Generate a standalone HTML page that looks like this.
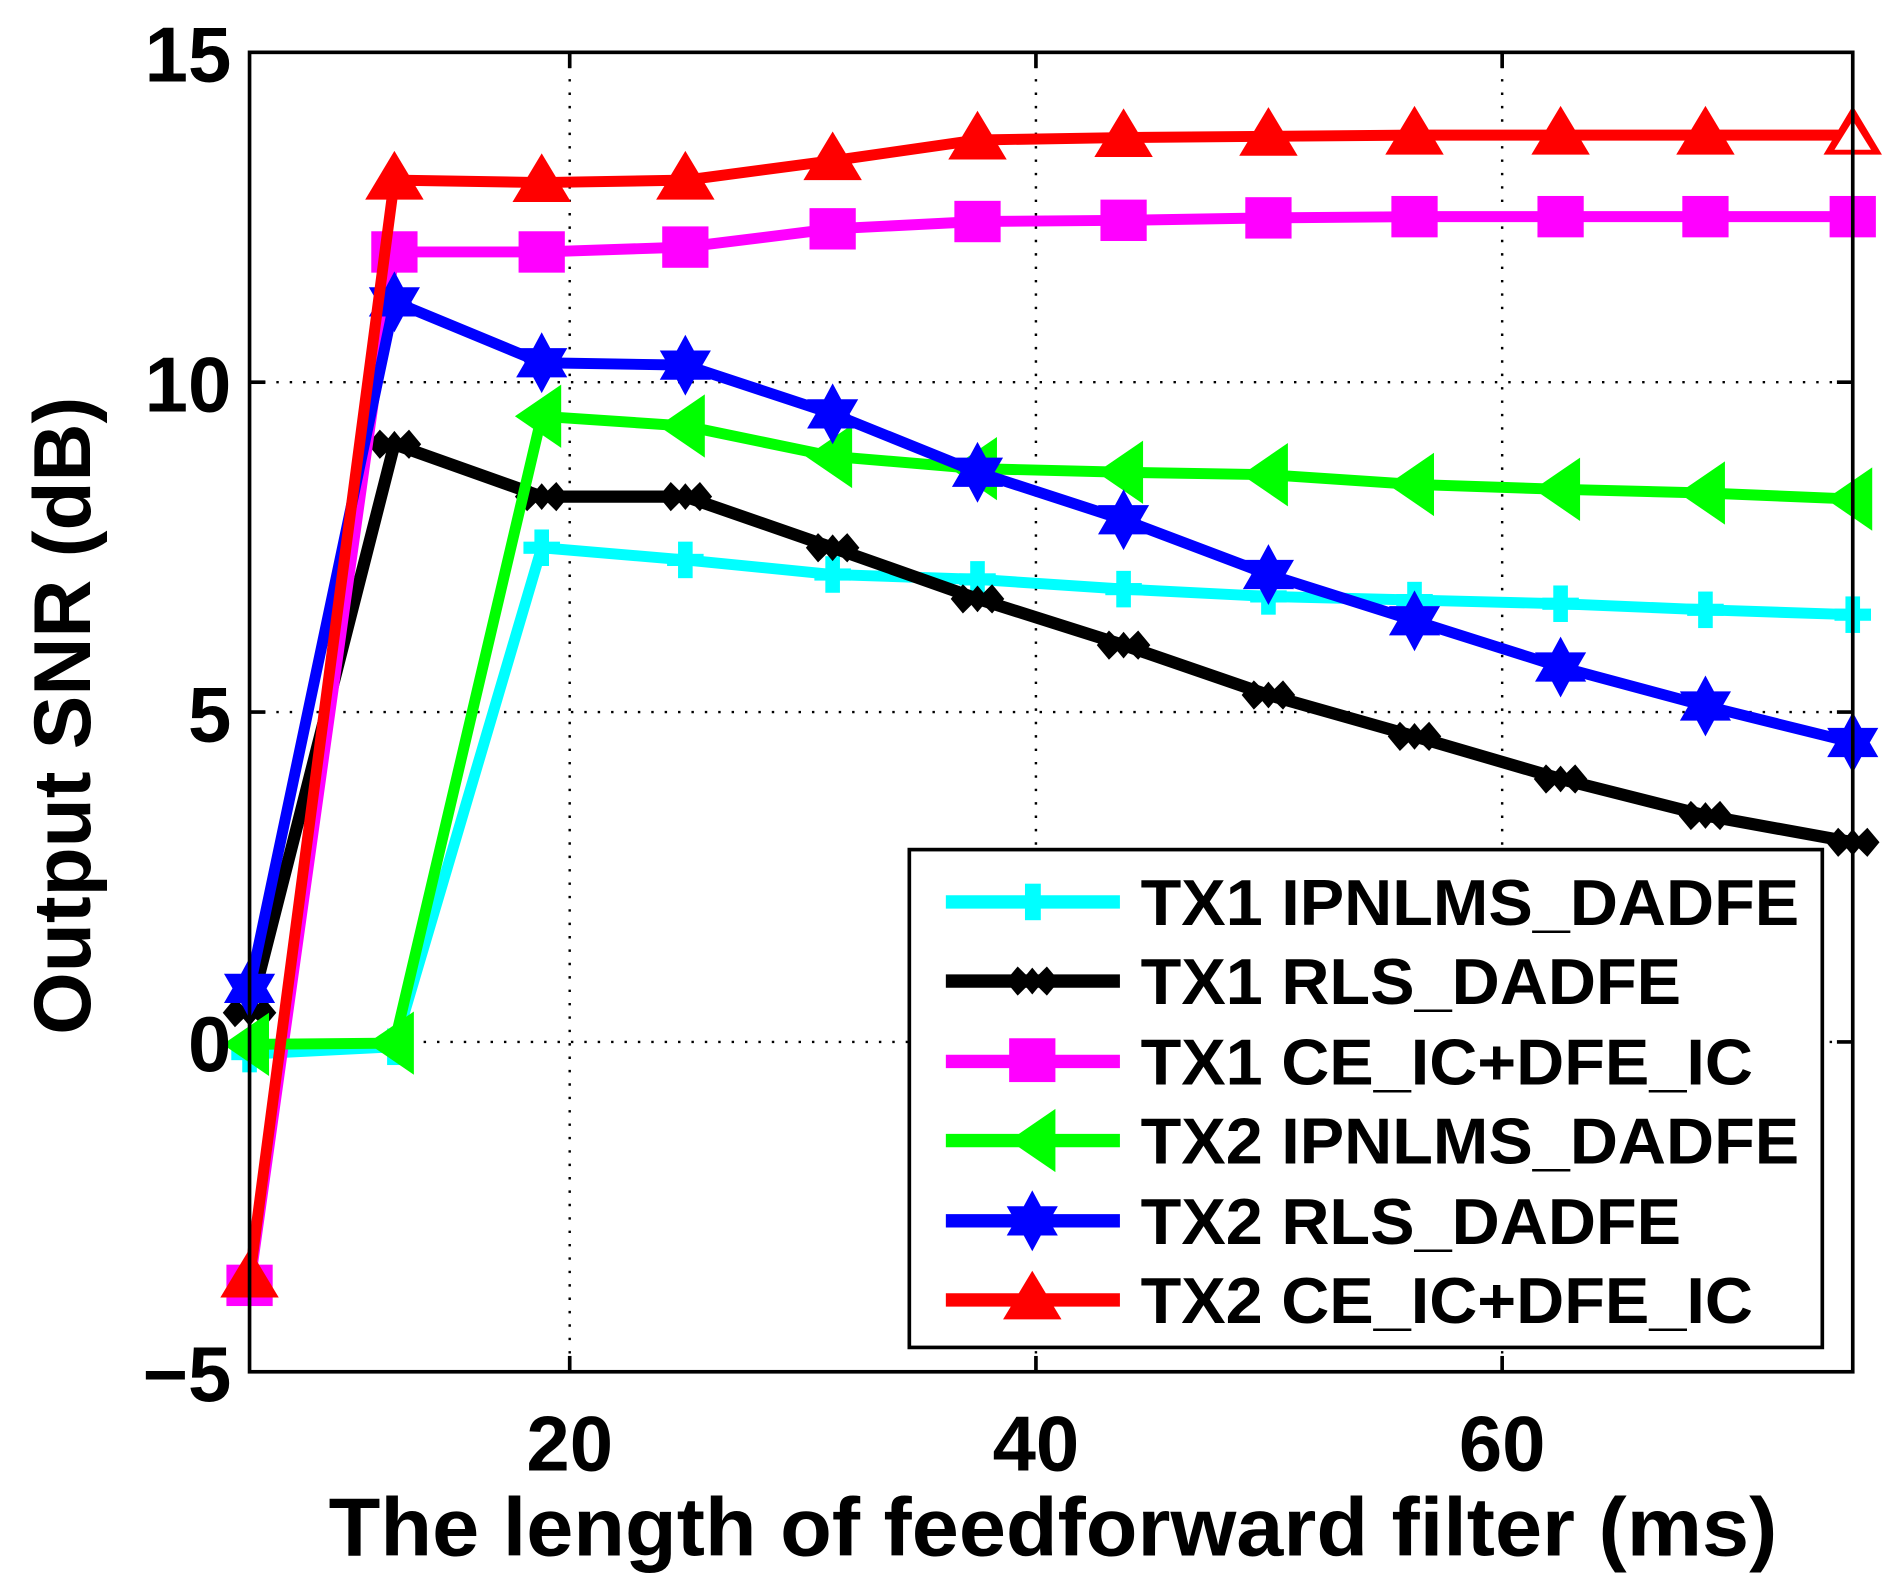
<!DOCTYPE html>
<html><head><meta charset="utf-8"><style>
html,body{margin:0;padding:0;background:#fff;}
svg{display:block;}
text{font-family:"Liberation Sans",Arial,sans-serif;font-weight:bold;fill:#000;}
</style></head><body>
<svg width="1899" height="1586" viewBox="0 0 1560 1303" preserveAspectRatio="none" xmlns="http://www.w3.org/2000/svg">
<defs>
<marker id="mc" markerUnits="userSpaceOnUse" viewBox="-20 -20 40 40" markerWidth="40" markerHeight="40" refX="0" refY="0" overflow="visible">
<rect x="-6" y="-15" width="12" height="30" fill="#00ffff"/><rect x="-15" y="-5" width="30" height="10" fill="#00ffff"/></marker>
<marker id="mk" markerUnits="userSpaceOnUse" viewBox="-20 -20 40 40" markerWidth="40" markerHeight="40" refX="0" refY="0" overflow="visible">
<path d="M-22 0 L-12 -12 L-5 -5 L0 -11 L5 -5 L12 -12 L22 0 L12 12 L5 5 L0 11 L-5 5 L-12 12 Z" fill="#000"/></marker>
<marker id="mm" markerUnits="userSpaceOnUse" viewBox="-20 -20 40 40" markerWidth="40" markerHeight="40" refX="0" refY="0" overflow="visible">
<rect x="-19" y="-17" width="38" height="34" fill="#ff00ff"/></marker>
<marker id="mg" markerUnits="userSpaceOnUse" viewBox="-30 -30 60 60" markerWidth="60" markerHeight="60" refX="0" refY="0" overflow="visible">
<polygon points="-22,0 16,-26 16,26" fill="#00ff00"/></marker>
<marker id="mb" markerUnits="userSpaceOnUse" viewBox="-30 -30 60 60" markerWidth="60" markerHeight="60" refX="0" refY="0" overflow="visible">
<polygon points="0,-25 7,-12 21,-12 14,0 21,12 7,12 0,25 -7,12 -21,12 -14,0 -21,-12 -7,-12" fill="#0000ff"/></marker>
<marker id="mr" markerUnits="userSpaceOnUse" viewBox="-30 -30 60 60" markerWidth="60" markerHeight="60" refX="0" refY="0" overflow="visible">
<polygon points="0,-24 24,16 -24,16" fill="#ff0000"/></marker>
</defs>
<rect x="0" y="0" width="1560" height="1303" fill="#fff"/>
<g stroke="#000" stroke-width="2" stroke-dasharray="2,9">
<line x1="468" y1="43" x2="468" y2="1127"/>
<line x1="851" y1="43" x2="851" y2="1127"/>
<line x1="1234" y1="43" x2="1234" y2="1127"/>
<line x1="205" y1="314" x2="1522" y2="314"/>
<line x1="205" y1="585" x2="1522" y2="585"/>
<line x1="205" y1="856" x2="1522" y2="856"/>
</g>
<g stroke="#000" stroke-width="3">
<line x1="468" y1="1127" x2="468" y2="1114"/><line x1="851" y1="1127" x2="851" y2="1114"/><line x1="1234" y1="1127" x2="1234" y2="1114"/>
<line x1="468" y1="43" x2="468" y2="56"/><line x1="851" y1="43" x2="851" y2="56"/><line x1="1234" y1="43" x2="1234" y2="56"/>
<line x1="205" y1="314" x2="218" y2="314"/><line x1="205" y1="585" x2="218" y2="585"/><line x1="205" y1="856" x2="218" y2="856"/>
<line x1="1522" y1="314" x2="1509" y2="314"/><line x1="1522" y1="585" x2="1509" y2="585"/><line x1="1522" y1="856" x2="1509" y2="856"/>
</g>
<g fill="none" stroke-width="9" stroke-linejoin="round">
<polyline stroke="#00ffff" marker-start="url(#mc)" marker-mid="url(#mc)" marker-end="url(#mc)" points="205,866 324,860 445,450 563,460 684,472 803,476 923,484 1042,490 1162,493 1282,496 1401,501 1522,505"/>
<polyline stroke="#000" stroke-width="10" marker-start="url(#mk)" marker-mid="url(#mk)" marker-end="url(#mk)" points="205,832 324,365 445,408 563,408 684,450 803,492 923,530 1042,571 1162,605 1282,640 1401,670 1522,692"/>
<polyline stroke="#ff00ff" marker-start="url(#mm)" marker-mid="url(#mm)" marker-end="url(#mm)" points="205,1056 324,207 445,207 563,203 684,188 803,182 923,181 1042,179 1162,178 1282,178 1401,178 1522,178"/>
<polyline stroke="#00ff00" marker-start="url(#mg)" marker-mid="url(#mg)" marker-end="url(#mg)" points="205,858 324,857 445,342 563,350 684,375 803,385 923,388 1042,390 1162,398 1282,402 1401,405 1522,410"/>
<polyline stroke="#0000ff" marker-start="url(#mb)" marker-mid="url(#mb)" marker-end="url(#mb)" points="205,812 324,248 445,298 563,300 684,340 803,388 923,427 1042,472 1162,510 1282,548 1401,580 1522,610"/>
<polyline stroke="#ff0000" marker-start="url(#mr)" marker-mid="url(#mr)" marker-end="url(#mr)" points="205,1050 324,148 445,150 563,148 684,132 803,115 923,113 1042,112 1162,111 1282,111 1401,111 1522,111"/>
</g>
<polygon points="1522,99 1537,123 1507,123" fill="#fff"/>
<rect x="205" y="43" width="1317" height="1084" fill="none" stroke="#000" stroke-width="3"/>
<g font-size="64" text-anchor="end">
<text x="190" y="67">15</text>
<text x="190" y="338">10</text>
<text x="190" y="609">5</text>
<text x="190" y="880">0</text>
<text x="190" y="1151">−5</text>
</g>
<g font-size="64" text-anchor="middle">
<text x="468" y="1208">20</text>
<text x="851" y="1208">40</text>
<text x="1234" y="1208">60</text>
</g>
<text x="270" y="1278" font-size="68" textLength="1190" lengthAdjust="spacingAndGlyphs">The length of feedforward filter (ms)</text>
<text transform="translate(74,588) rotate(-90)" font-size="66" text-anchor="middle">Output SNR (dB)</text>
<rect x="747" y="698" width="750" height="409" fill="#fff" stroke="#000" stroke-width="3"/>
<g stroke-width="11" fill="none">
<line x1="777" y1="741" x2="920" y2="741" stroke="#00ffff"/>
<line x1="777" y1="806" x2="920" y2="806" stroke="#000"/>
<line x1="777" y1="872" x2="920" y2="872" stroke="#ff00ff"/>
<line x1="777" y1="937" x2="920" y2="937" stroke="#00ff00"/>
<line x1="777" y1="1003" x2="920" y2="1003" stroke="#0000ff"/>
<line x1="777" y1="1068" x2="920" y2="1068" stroke="#ff0000"/>
</g>
<g>
<rect x="842" y="726" width="13" height="30" fill="#00ffff"/>
<path d="M826 806 L836 794 L843 801 L848 795 L853 801 L860 794 L870 806 L860 818 L853 811 L848 817 L843 811 L836 818 Z" fill="#000"/>
<rect x="829" y="853" width="38" height="36" fill="#ff00ff"/>
<polygon points="829,937 867,911 867,963" fill="#00ff00"/>
<polygon points="848,978 855,991 869,991 862,1003 869,1015 855,1015 848,1028 841,1015 827,1015 834,1003 827,991 841,991" fill="#0000ff"/>
<polygon points="848,1044 872,1084 824,1084" fill="#ff0000"/>
</g>
<g font-size="53">
<text x="937" y="760" textLength="541" lengthAdjust="spacingAndGlyphs">TX1 IPNLMS_DADFE</text>
<text x="937" y="825" textLength="444" lengthAdjust="spacingAndGlyphs">TX1 RLS_DADFE</text>
<text x="937" y="891" textLength="503" lengthAdjust="spacingAndGlyphs">TX1 CE_IC+DFE_IC</text>
<text x="937" y="956" textLength="541" lengthAdjust="spacingAndGlyphs">TX2 IPNLMS_DADFE</text>
<text x="937" y="1022" textLength="444" lengthAdjust="spacingAndGlyphs">TX2 RLS_DADFE</text>
<text x="937" y="1087" textLength="503" lengthAdjust="spacingAndGlyphs">TX2 CE_IC+DFE_IC</text>
</g>
</svg>
</body></html>
